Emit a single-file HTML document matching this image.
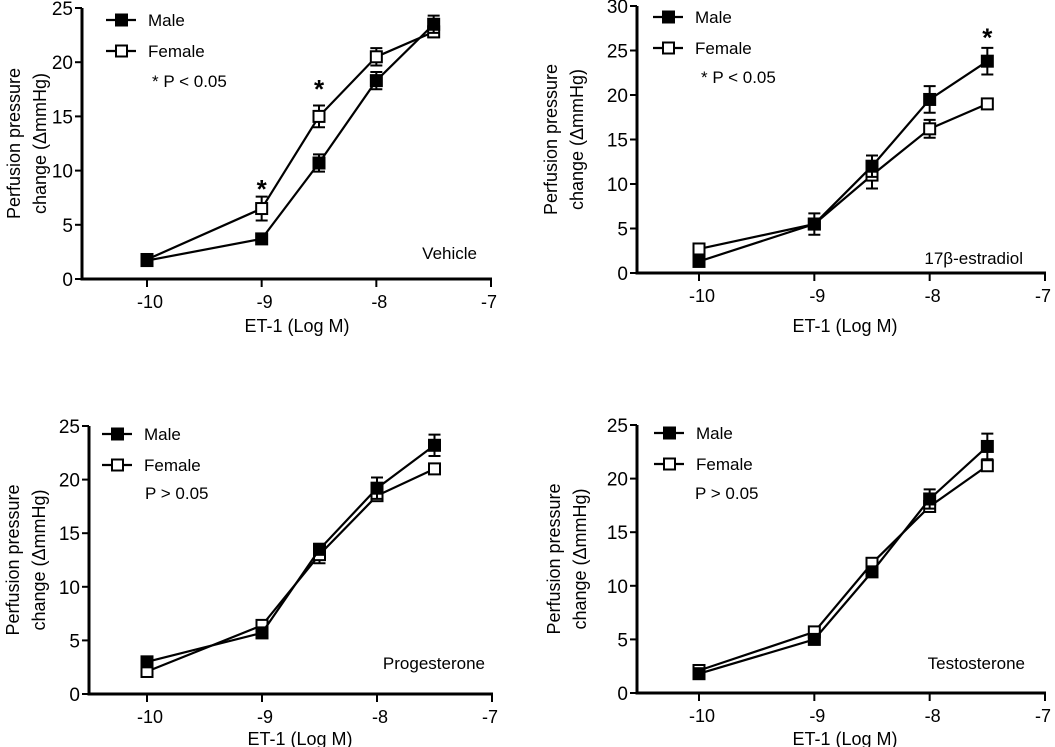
<!DOCTYPE html>
<html><head><meta charset="utf-8"><style>
html,body{margin:0;padding:0;background:#fff;}
svg{display:block;font-family:"Liberation Sans","DejaVu Sans",sans-serif;}
</style></head><body>
<svg id="fig" width="1055" height="747" viewBox="0 0 1055 747"></svg>
<script>
const xValues=[-10,-9,-8.5,-8,-7.5];
const xTicks=[-10,-9,-8,-7];
const p1Male=[1.7,3.7,10.7,18.3,23.5];const p1MaleErr=[0.3,0.3,0.8,0.8,0.8];
const p1Female=[1.8,6.5,15.0,20.5,22.8];const p1FemaleErr=[0.3,1.1,1.0,0.8,0.5];
const p2Male=[1.3,5.5,12.0,19.5,23.8];const p2MaleErr=[0.3,1.2,1.2,1.5,1.5];
const p2Female=[2.7,5.5,11.0,16.2,19.0];const p2FemaleErr=[0.3,0.5,1.5,1.0,0.3];
const p3Male=[3.0,5.7,13.5,19.2,23.2];const p3MaleErr=[0.3,0.4,0.5,1.0,1.0];
const p3Female=[2.1,6.4,13.0,18.5,21.0];const p3FemaleErr=[0.3,0.3,0.8,0.5,0.3];
const p4Male=[1.8,5.0,11.3,18.1,23.0];const p4MaleErr=[0.3,0.3,0.3,0.9,1.2];
const p4Female=[2.1,5.7,12.1,17.4,21.2];const p4FemaleErr=[0.3,0.4,0.4,0.4,0.4];
const yTicks1=[0,5,10,15,20,25];const yTicks2=[0,5,10,15,20,25,30];

const NS="http://www.w3.org/2000/svg";const svg=document.getElementById('fig');
function mk(tag,attrs,parent,text){const e=document.createElementNS(NS,tag);for(const k in attrs)e.setAttribute(k,attrs[k]);if(text!==undefined)e.textContent=text;(parent||svg).appendChild(e);return e;}

const panels=[
 {id:'vehicle',ax:82,x0:147,x1:491,y0:279,yTop:8,yMax:25,yt:yTicks1,m:p1Male,me:p1MaleErr,f:p1Female,fe:p1FemaleErr,tx:20,
  leg:{x:106,y:20},stat:'* P < 0.05',statX:152,statY:87,label:'Vehicle',lx:477,ly:259,stars:[[-9,8.6],[-8.5,17.8]],xl:297,xly:332},
 {id:'estradiol',ax:637,x0:699,x1:1045,y0:273,yTop:6,yMax:30,yt:yTicks2,m:p2Male,me:p2MaleErr,f:p2Female,fe:p2FemaleErr,tx:557,
  leg:{x:653,y:17},stat:'* P < 0.05',statX:701,statY:83,label:'17β-estradiol',lx:1023,ly:264,stars:[[-7.5,26.8]],xl:845,xly:332},
 {id:'progesterone',ax:89,x0:147,x1:492,y0:694,yTop:426,yMax:25,yt:yTicks1,m:p3Male,me:p3MaleErr,f:p3Female,fe:p3FemaleErr,tx:19,
  leg:{x:102,y:434},stat:'P > 0.05',statX:145,statY:499,label:'Progesterone',lx:485,ly:669,stars:[],xl:300,xly:745},
 {id:'testosterone',ax:637,x0:699,x1:1045,y0:693,yTop:425,yMax:25,yt:yTicks1,m:p4Male,me:p4MaleErr,f:p4Female,fe:p4FemaleErr,tx:560,
  leg:{x:654,y:433},stat:'P > 0.05',statX:695,statY:499,label:'Testosterone',lx:1025,ly:669,stars:[],xl:845,xly:745}
];

panels.forEach(p=>{
 const g=mk('g',{});
 
 
 const sx=v=>p.x0+(v-(-10))*(p.x1-p.x0)/3;
 const sy=v=>p.y0-v*(p.y0-p.yTop)/p.yMax;
 const ya=mk('line',{x1:p.ax,y1:p.yTop,x2:p.ax,y2:p.y0+1.5,stroke:'#000','stroke-width':3},g);
 
 
 const xa=mk('line',{x1:p.ax,y1:p.y0,x2:p.x1+1,y2:p.y0,stroke:'#000','stroke-width':3},g);
 
 
 p.yt.forEach(t=>{
  mk('line',{x1:p.ax-7,y1:sy(t),x2:p.ax,y2:sy(t),stroke:'#000','stroke-width':2},g);
  const tl=mk('text',{x:p.ax-9,y:sy(t)+7,'text-anchor':'end','font-size':19},g,String(t));
  
  
 });
 xTicks.forEach(t=>{
  mk('line',{x1:sx(t),y1:p.y0,x2:sx(t),y2:p.y0+8,stroke:'#000','stroke-width':2},g);
  const tl=mk('text',{x:sx(t)+(t===-7?-2:3),y:p.y0+29,'text-anchor':'middle','font-size':18},g,String(t));
  
  
 });
 const yl=mk('text',{transform:`translate(${p.tx},${(p.y0+p.yTop)/2}) rotate(-90)`,'text-anchor':'middle','font-size':18},g);
 
 
 mk('tspan',{x:0,y:0},yl,'Perfusion pressure');
 mk('tspan',{x:0,y:26},yl,'change (ΔmmHg)');
 const xl=mk('text',{x:p.xl,y:p.xly,'text-anchor':'middle','font-size':18},g,'ET-1 (Log M)');
 
 
 [[p.f,p.fe,'female'],[p.m,p.me,'male']].forEach(([vals,errs,nm])=>{
  const pts=vals.map((v,i)=>sx(xValues[i])+','+sy(v)).join(' ');
  const pl=mk('polyline',{points:pts,fill:'none',stroke:'#000','stroke-width':2.2},g);
  
  
  vals.forEach((v,i)=>{
   const x=sx(xValues[i]),yh=sy(v+errs[i]),yl2=sy(v-errs[i]);
   mk('path',{d:`M${x},${yh}V${yl2}M${x-6},${yh}H${x+6}M${x-6},${yl2}H${x+6}`,stroke:'#000','stroke-width':2,fill:'none'},g);
   const r=mk('rect',{x:x-5.5,y:sy(v)-5.5,width:11,height:11,fill:nm==='male'?'#000':'#fff',stroke:'#000','stroke-width':2},g);
   
   
  });
 });
 [['Male','#000',p.leg.y],['Female','#fff',p.leg.y+31]].forEach(([t,fill,y])=>{
  const lg=mk('g',{},g);
  
  
  mk('line',{x1:p.leg.x,y1:y,x2:p.leg.x+30,y2:y,stroke:'#000','stroke-width':2.2},lg);
  mk('rect',{x:p.leg.x+10,y:y-5.5,width:11,height:11,fill:fill,stroke:'#000','stroke-width':2},lg);
  mk('text',{x:p.leg.x+42,y:y+6,'font-size':17},lg,t);
 });
 const st=mk('text',{x:p.statX,y:p.statY,'font-size':17},g,p.stat);
 
 
 const lb=mk('text',{x:p.lx,y:p.ly,'text-anchor':'end','font-size':17},g,p.label);
 
 
 p.stars.forEach(s=>{
  const a=mk('text',{x:sx(s[0]),y:sy(s[1])+12,'text-anchor':'middle','font-size':26,'font-weight':'bold'},g,'*');
  
  
 });
});
</script>
</body></html>
